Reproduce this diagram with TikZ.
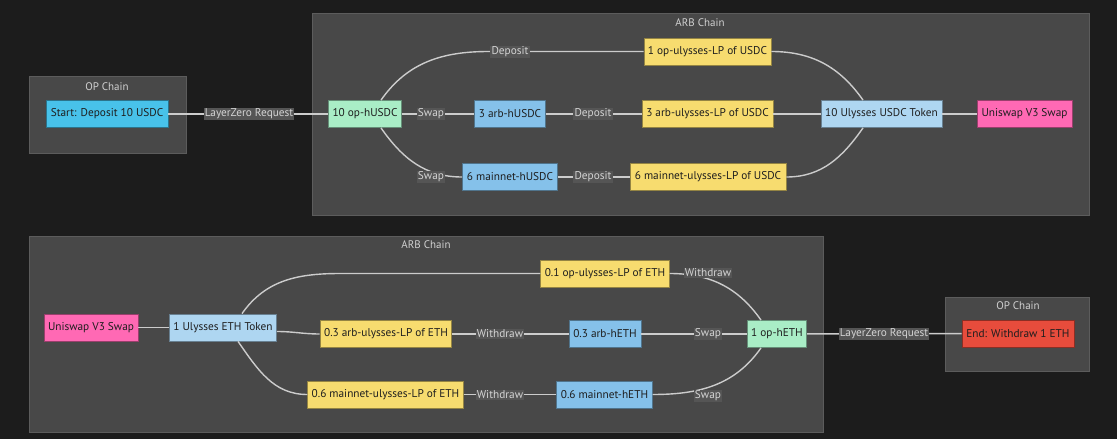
\documentclass[tikz,border=0pt]{standalone}
\usepackage{fontspec}
\setmainfont{PT Sans}

\definecolor{bgdark}{HTML}{1C1C1C}
\definecolor{chainfill}{HTML}{484848}
\definecolor{chainline}{HTML}{5C5C5C}
\definecolor{titlegray}{HTML}{D0D0D0}
\definecolor{edgegray}{HTML}{CCCCCC}
\definecolor{lblfill}{HTML}{555555}
\definecolor{lbltext}{HTML}{D4D4D4}
\definecolor{boxtext}{HTML}{1E1E1E}
\definecolor{startblue}{HTML}{48C2EA}
\definecolor{hmint}{HTML}{A9EDC6}
\definecolor{hblue}{HTML}{85C1EA}
\definecolor{lpyellow}{HTML}{F7DC6F}
\definecolor{tokblue}{HTML}{AED6F1}
\definecolor{unipink}{HTML}{FF69B4}
\definecolor{endred}{HTML}{E74C3C}

\tikzset{
    chain/.style={fill=chainfill, draw=chainline, line width=0.8pt},
    chaintitle/.style={text=titlegray, font=\fontsize{11}{13}\selectfont},
    box/.style={fill=#1, draw=#1!60!black, line width=0.8pt, minimum height=27pt,
        inner xsep=4pt, text=boxtext, font=\fontsize{11.3}{13}\selectfont},
    edge/.style={draw=edgegray, line width=1.4pt},
    lbl/.style={fill=lblfill, text=lbltext, inner sep=1.2pt, font=\fontsize{11.3}{13}\selectfont}
}

\begin{document}
\begin{tikzpicture}[x=1pt, y=-1pt]
    \useasboundingbox[fill=bgdark] (0,0) rectangle (1117,439);

    % Chains
    \draw[chain] (29,76) rectangle (186,153);
    \draw[chain] (312,13) rectangle (1089,215);
    \draw[chain] (29,236) rectangle (823,432);
    \draw[chain] (945,297) rectangle (1089,371);

    \node[chaintitle] (opTopT) at (107,87) {OP Chain};
    \node[chaintitle] (arbTopT) at (700,23) {ARB Chain};
    \node[chaintitle] (arbBotT) at (426,245) {ARB Chain};
    \node[chaintitle] (opBotT) at (1018,306) {OP Chain};

    % Deposit side
    \node[box=startblue, minimum width=122pt] (start) at (107,114) {Start: Deposit 10 USDC};
    \node[box=hmint, minimum width=72pt] (opHUSDC) at (365,114) {10 op-hUSDC};
    \node[box=hblue, minimum width=71pt] (arbHUSDC) at (510,114) {3 arb-hUSDC};
    \node[box=hblue, minimum width=95pt] (mainHUSDC) at (510,177) {6 mainnet-hUSDC};
    \node[box=lpyellow, minimum width=127pt] (opLPUSDC) at (707.5,51.5) {1 op-ulysses-LP of USDC};
    \node[box=lpyellow, minimum width=131pt] (arbLPUSDC) at (707.5,114) {3 arb-ulysses-LP of USDC};
    \node[box=lpyellow, minimum width=156pt] (mainLPUSDC) at (708,177) {6 mainnet-ulysses-LP of USDC};
    \node[box=tokblue, minimum width=121pt] (tokUSDC) at (881.5,114) {10 Ulysses USDC Token};
    \node[box=unipink, minimum width=95pt] (uniTop) at (1024.5,114) {Uniswap V3 Swap};

    % Withdraw side
    \node[box=unipink, minimum width=92pt] (uniBot) at (91,327.5) {Uniswap V3 Swap};
    \node[box=tokblue, minimum width=104pt] (tokETH) at (223,327.5) {1 Ulysses ETH Token};
    \node[box=lpyellow, minimum width=126pt] (opLPETH) at (605,273.5) {0.1 op-ulysses-LP of ETH};
    \node[box=lpyellow, minimum width=130pt] (arbLPETH) at (386,334) {0.3 arb-ulysses-LP of ETH};
    \node[box=lpyellow, minimum width=153pt] (mainLPETH) at (385.5,394.5) {0.6 mainnet-ulysses-LP of ETH};
    \node[box=hblue, minimum width=72pt] (arbHETH) at (605,334) {0.3 arb-hETH};
    \node[box=hblue, minimum width=95pt] (mainHETH) at (604.5,394.5) {0.6 mainnet-hETH};
    \node[box=hmint, minimum width=58pt] (opHETH) at (777,334) {1 op-hETH};
    \node[box=endred, minimum width=112pt] (finish) at (1018,333.5) {End: Withdraw 1 ETH};

    % Draw
    \draw[edge] (start) -- (opHUSDC);
    \draw[edge] ([xshift=16pt]opHUSDC.north) to[out=55, in=180] ([xshift=-155pt]opLPUSDC.west) -- (opLPUSDC.west);
    \draw[edge] (opHUSDC) -- (arbHUSDC);
    \draw[edge] ([xshift=16pt]opHUSDC.south) to[out=-55, in=180] (mainHUSDC.west);
    \draw[edge] (arbHUSDC) -- (arbLPUSDC);
    \draw[edge] (mainHUSDC) -- (mainLPUSDC);
    \draw[edge] (opLPUSDC.east) to[out=0, in=125] ([xshift=-18.5pt]tokUSDC.north);
    \draw[edge] (arbLPUSDC) -- (tokUSDC);
    \draw[edge] (mainLPUSDC.east) to[out=0, in=235] ([xshift=-18.5pt]tokUSDC.south);
    \draw[edge] (tokUSDC) -- (uniTop);

    \draw[edge] (uniBot) -- (tokETH);
    \draw[edge] ([xshift=19pt]tokETH.north) to[out=55, in=180] ([xshift=-200pt]opLPETH.west) -- (opLPETH.west);
    \draw[edge] ([yshift=-4pt]tokETH.east) to[out=0, in=180] (arbLPETH.west);
    \draw[edge] ([xshift=15pt]tokETH.south) to[out=-55, in=180] (mainLPETH.west);
    \draw[edge] (arbLPETH) -- (arbHETH);
    \draw[edge] (mainLPETH) -- (mainHETH);
    \draw[edge] (opLPETH.east) to[out=0, in=125] ([xshift=-16pt]opHETH.north);
    \draw[edge] (arbHETH) -- (opHETH);
    \draw[edge] (mainHETH.east) to[out=0, in=235] ([xshift=-16pt]opHETH.south);
    \draw[edge] (opHETH) -- (finish);

    % Labeling
    \foreach \name/\where/\txt in {lzTop/{(249,114)}/LayerZero Request, depOp/{(510,52)}/Deposit,
        swapArb/{(431,114)}/Swap, swapMain/{(431,177)}/Swap, depArb/{(593,114)}/Deposit,
        depMain/{(593,177)}/Deposit, wdOp/{(708,273)}/Withdraw, wdArb/{(500,334)}/Withdraw,
        wdMain/{(500,395)}/Withdraw, swapArbE/{(708,334)}/Swap, swapMainE/{(708,396)}/Swap,
        lzBot/{(884,334)}/LayerZero Request}
        \node[lbl] (\name) at \where {\txt};
\end{tikzpicture}
\end{document}
